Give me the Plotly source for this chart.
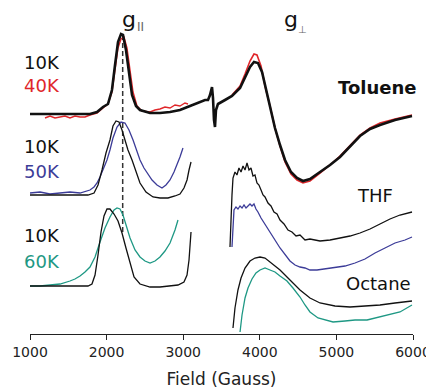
import plotly.graph_objects as go

# ---------------- data (field in Gauss, intensity in arbitrary offset units) ----------------
tol10_f = [1000,1392,1783,1875,1953,2018,2070,2110,2149,2188,2214,2253,2293,2332,2384,2436,2567,2697,2828,2958,
           3089,3219,3285,3324,3350,3376,3389,3402,3415,3428,3454,3546,3637,3742,3807,3872,3924,3976,4029,4081,
           4133,4198,4264,4329,4407,4486,4564,4655,4786,4917,5047,5178,5308,5439,5569,5765,5987]
tol10_v = [220,220,220,222,227,230,244,269,292,300,299,284,259,239,228,224,221,221,222,224,
           228,232,234,234,239,247,236,214,207,224,230,234,238,246,256,267,272,271,262,244,
           227,206,189,174,162,156,153,155,162,169,177,188,198,205,209,214,218]

tol40_par_f = [1196,1261,1326,1392,1457,1522,1587,1653,1718,1783,1875,1953,2018,2070,2110,2149,2188,2227,2266,2306,
               2345,2397,2462,2567,2632,2697,2762,2828,2893,2958,3023,3063]
tol40_par_v = [216,218,216,217,218,216,218,217,217,219,221,226,230,242,264,286,295,297,286,264,
               242,228,223,222,224,225,227,226,229,228,231,230]
tol40_perp_f = [3637,3742,3807,3872,3924,3963,4016,4068,4133,4198,4264,4329,4407,4486,4564,4655,4786,4917,5047,5178,
                5308,5439,5569,5765,5987]
tol40_perp_v = [239,248,260,273,280,279,268,248,228,206,188,172,160,154,151,153,161,169,178,189,
                199,206,211,215,219]

thf10_par_f = [1000,1392,1757,1836,1888,1940,1992,2044,2083,2123,2162,2201,2240,2279,2332,2384,2436,2514,2606,2697,
               2801,2893,2958,3010,3050,3076,3102]
thf10_par_v = [139,139,139,141,149,164,181,194,208,213,212,204,194,184,174,162,151,142,137,136,
               136,138,140,146,154,164,172]
thf10_perp_f = [3611,3624,3637,3650,3676,3702,3728,3755,3781,3807,3833,3859,3885,3911,3937,3963,3989,4016,4042,4068,
                4107,4146,4185,4225,4264,4316,4368,4420,4473,4525,4590,4655,4786,4917,5047,5178,5308,5439,5569,5700,
                5830,5987]
thf10_perp_v = [87,119,139,156,162,159,166,162,168,164,171,164,166,158,159,151,149,144,139,137,
                131,128,122,120,114,110,104,102,98,99,94,95,93,94,96,98,101,105,110,115,
                119,122]

thf50_par_f = [1000,1131,1261,1392,1522,1653,1731,1783,1836,1875,1914,1953,2005,2044,2083,2136,2188,2240,2292,2345,
               2397,2436,2488,2527,2593,2658,2723,2775,2828,2880,2919,2958,2997]
thf50_par_v = [141,142,140,141,142,141,143,144,147,151,157,164,174,184,196,207,212,211,204,194,
               182,174,166,161,154,149,146,149,154,162,169,177,186]
thf50_perp_f = [3637,3650,3663,3689,3715,3742,3768,3794,3820,3846,3872,3898,3924,3950,3976,4016,4068,4133,4198,4264,
                4329,4394,4460,4525,4590,4655,4747,4851,4982,5112,5243,5373,5504,5635,5765,5896,5987]
thf50_perp_v = [87,109,124,127,125,128,126,129,126,128,130,128,130,125,122,116,110,102,94,86,
                79,73,69,67,66,64,64,65,66,68,71,75,81,86,91,94,97]

oct10_par_f = [1000,1392,1757,1809,1849,1888,1927,1966,2005,2044,2097,2149,2201,2253,2306,2358,2436,2567,2697,2828,
               2932,3010,3050,3076,3089,3102]
oct10_par_v = [48,48,48,50,59,79,102,118,125,125,120,113,101,86,70,57,50,47,47,48,
               49,52,59,74,89,102]
oct10_perp_f = [3650,3676,3715,3755,3807,3872,3937,4003,4068,4133,4264,4394,4525,4655,4786,4982,5178,5373,5569,5765,5987]
oct10_perp_v = [6,26,44,56,66,73,76,77,76,72,64,54,44,36,31,28,27,28,29,31,33]

oct60_par_f = [1000,1131,1261,1392,1522,1587,1653,1718,1783,1849,1914,1979,2044,2097,2136,2175,2214,2266,2306,2371,
               2436,2501,2567,2632,2697,2762,2828,2893,2932]
oct60_par_v = [48,48,49,50,53,55,58,62,67,77,92,106,117,124,126,125,119,106,96,84,
               77,73,71,73,77,83,91,104,114]
oct60_perp_f = [3742,3768,3807,3846,3898,3950,4003,4068,4133,4198,4264,4355,4433,4525,4590,4655,4760,4851,4956,5112,
                5243,5400,5569,5700,5830,5987]
oct60_perp_v = [2,19,36,46,55,61,64,66,64,62,58,53,46,37,29,22,16,14,12,13,
                14,14,17,19,22,29]

g_par_field = 2210
g_par_span = [102, 297]

tick_vals = [1000, 2000, 3000, 4000, 5000, 6000]
tick_text = ["1000", "2000", "3000", "4000", "5000", "6000"]

BLACK = "#111111"
RED = "#e0262a"
BLUE = "#3c3c98"
TEAL = "#1e9884"
FONT = "DejaVu Sans"

fig = go.Figure()

def add(x, y, color, width):
    fig.add_trace(go.Scatter(x=x, y=y, mode="lines", line=dict(color=color, width=width),
                             showlegend=False, hoverinfo="skip", cliponaxis=False))

# dashed g-parallel guide
fig.add_trace(go.Scatter(x=[g_par_field, g_par_field], y=g_par_span, mode="lines",
                         line=dict(color="#333333", width=1.5, dash="5px,3px"),
                         showlegend=False, hoverinfo="skip"))

add(tol40_par_f, tol40_par_v, RED, 1.4)
add(tol40_perp_f, tol40_perp_v, RED, 1.6)
add(tol10_f, tol10_v, BLACK, 2.6)

add(thf50_par_f, thf50_par_v, BLUE, 1.3)
add(thf50_perp_f, thf50_perp_v, BLUE, 1.3)
add(thf10_par_f, thf10_par_v, BLACK, 1.3)
add(thf10_perp_f, thf10_perp_v, BLACK, 1.3)

add(oct60_par_f, oct60_par_v, TEAL, 1.3)
add(oct60_perp_f, oct60_perp_v, TEAL, 1.3)
add(oct10_par_f, oct10_par_v, BLACK, 1.3)
add(oct10_perp_f, oct10_perp_v, BLACK, 1.3)

def txt(s, x, y, color=BLACK, size=18, xanchor="left", bold=False):
    if bold:
        s = "<b>" + s + "</b>"
    fig.add_annotation(text=s, x=x, y=y, xref="paper", yref="paper", xanchor=xanchor,
                       yanchor="middle", showarrow=False,
                       font=dict(family=FONT, size=size, color=color))

txt("10K", -0.021, 0.834)
txt("40K", -0.021, 0.761, RED)
txt("10K", -0.021, 0.574)
txt("50K", -0.021, 0.500, BLUE)
txt("10K", -0.021, 0.301)
txt("60K", -0.021, 0.221, TEAL)

# g labels with their small grey subscripts
txt("g", 0.258, 0.966, size=22, xanchor="center")
txt("II", 0.288, 0.942, color="#666666", size=12, xanchor="center")
txt("g", 0.681, 0.966, size=22, xanchor="center")
txt("⊥", 0.712, 0.934, color="#666666", size=10, xanchor="center")

txt("Toluene", 0.906, 0.755, size=18, xanchor="center", bold=True)
txt("THF", 0.901, 0.426, size=18, xanchor="center")
txt("Octane", 0.911, 0.156, size=18, xanchor="center")

# the page body adds an 8px offset, so the figure is sized to the visible area
fig.update_layout(
    width=426, height=382,
    margin=dict(l=22, r=21, t=0, b=56),
    paper_bgcolor="white", plot_bgcolor="white",
    font=dict(family=FONT, color="#222222"),
    xaxis=dict(range=[1000, 6000], tickvals=tick_vals, ticktext=tick_text,
               ticks="outside", ticklen=5, tickwidth=1.2, tickcolor="#222222",
               showline=True, linecolor="#222222", linewidth=1.2,
               showgrid=False, zeroline=False,
               tickfont=dict(family=FONT, size=14, color="#222222"),
               title=dict(text="Field (Gauss)", font=dict(family=FONT, size=17, color="#222222"),
                          standoff=14)),
    yaxis=dict(range=[0, 326], visible=False, showgrid=False, zeroline=False),
)

fig.write_html("out.html")
